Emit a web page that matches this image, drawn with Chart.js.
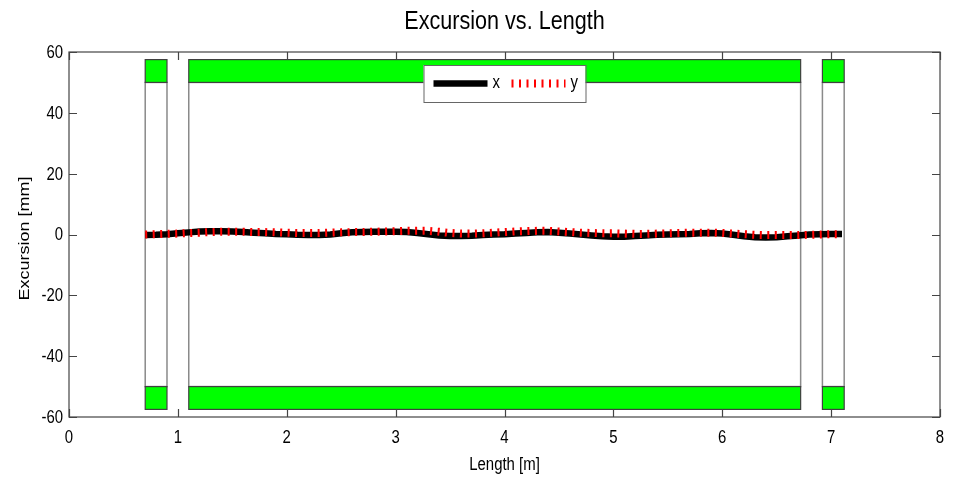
<!DOCTYPE html>
<html>
<head>
<meta charset="utf-8">
<title>Excursion vs. Length</title>
<script src="https://cdn.jsdelivr.net/npm/chart.js@4.4.1/dist/chart.umd.min.js"></script>
<style>
    html, body { margin: 0; padding: 0; background: #fff; }
    #wrap { width: 956px; height: 477px; }
</style>
</head>
<body>
<div id="wrap"><canvas id="excursionChart" width="956" height="477"></canvas></div>
<script>
const FONT = "'Liberation Sans', Arial, sans-serif";
const SQUISH = 0.83; // narrow lettering

// position along the line [m]
const lengthM = [0.7, 0.8, 0.9, 1.0, 1.1, 1.2, 1.3, 1.4, 1.5, 1.6, 1.7, 1.8, 1.9, 2.0, 2.1, 2.2,
    2.3, 2.4, 2.5, 2.6, 2.7, 2.8, 2.9, 3.0, 3.1, 3.2, 3.3, 3.4, 3.5, 3.6, 3.7, 3.8, 3.9, 4.0,
    4.1, 4.2, 4.3, 4.4, 4.5, 4.6, 4.7, 4.8, 4.9, 5.0, 5.1, 5.2, 5.3, 5.4, 5.5, 5.6, 5.7, 5.8,
    5.9, 6.0, 6.1, 6.2, 6.3, 6.4, 6.5, 6.6, 6.7, 6.8, 6.9, 7.0, 7.1];
// horizontal / vertical excursion [mm]
const excursionX = [-0.2, -0.1, 0.1, 0.4, 0.7, 1.0, 1.1, 1.1, 1.0, 0.8, 0.6, 0.4, 0.2, 0.1, -0.1, -0.2,
    -0.2, 0.0, 0.4, 0.7, 0.8, 0.9, 0.9, 0.9, 0.8, 0.5, 0.1, -0.3, -0.5, -0.5, -0.4, -0.2, 0.0, 0.1,
    0.3, 0.5, 0.7, 0.8, 0.6, 0.3, 0.0, -0.3, -0.6, -0.7, -0.7, -0.5, -0.3, -0.1, 0.0, 0.1, 0.2, 0.4,
    0.5, 0.3, -0.1, -0.6, -0.9, -1.0, -0.9, -0.6, -0.3, 0.0, 0.1, 0.2, 0.2];
const excursionY = [0.0, 0.1, 0.2, 0.3, 0.5, 0.6, 0.8, 0.9, 0.9, 0.9, 0.8, 0.8, 0.7, 0.6, 0.5, 0.5,
    0.5, 0.6, 0.7, 0.8, 0.8, 0.9, 1.0, 1.1, 1.2, 1.2, 1.2, 0.9, 0.5, 0.3, 0.3, 0.4, 0.6, 0.8,
    1.0, 1.1, 1.2, 1.2, 1.0, 0.8, 0.6, 0.5, 0.4, 0.4, 0.3, 0.2, 0.2, 0.3, 0.4, 0.5, 0.6, 0.6,
    0.6, 0.5, 0.3, 0.1, -0.1, -0.2, -0.2, -0.2, -0.2, -0.1, 0.0, 0.1, 0.1];

// magnet sections: start / end [m], pole face and yoke edge [mm]
const magnetStart = [0.7, 1.1, 6.92];
const magnetEnd = [0.9, 6.72, 7.12];
const poleFace = 50;
const yokeEdge = 57.5;

const xTicks = [0, 1, 2, 3, 4, 5, 6, 7, 8];
const yTicks = [-60, -40, -20, 0, 20, 40, 60];

function toPoints(xs, ys) {
    return xs.map((x, i) => ({ x: x, y: ys[i] }));
}

// text squeezed horizontally, like the original figure lettering
function narrowText(ctx, text, x, y, size, align, rotate) {
    ctx.save();
    ctx.translate(x, y);
    if (rotate) ctx.rotate(-Math.PI / 2);
    else ctx.scale(SQUISH, 1);
    ctx.font = size + 'px ' + FONT;
    ctx.fillStyle = '#000';
    ctx.textAlign = align;
    ctx.textBaseline = 'middle';
    if (rotate) ctx.scale(1, SQUISH);
    ctx.fillText(text, 0, 0);
    ctx.restore();
}

// magnet outlines, drawn under the traces
const magnetPlugin = {
    id: 'magnets',
    beforeDatasetsDraw(chart) {
        const ctx = chart.ctx, xs = chart.scales.x, ys = chart.scales.y;
        ctx.save();
        for (let i = 0; i < magnetStart.length; i++) {
            const x0 = xs.getPixelForValue(magnetStart[i]);
            const x1 = xs.getPixelForValue(magnetEnd[i]);
            const top = ys.getPixelForValue(poleFace), bot = ys.getPixelForValue(-poleFace);
            ctx.fillStyle = '#ffffff';
            ctx.strokeStyle = '#8a8a8a';
            ctx.lineWidth = 1.5;
            ctx.fillRect(x0, top, x1 - x0, bot - top);
            ctx.strokeRect(x0, top, x1 - x0, bot - top);
            [[poleFace, yokeEdge], [-yokeEdge, -poleFace]].forEach(r => {
                const y0 = ys.getPixelForValue(r[1]), y1 = ys.getPixelForValue(r[0]);
                ctx.fillStyle = '#00ff00';
                ctx.strokeStyle = '#404040';
                ctx.lineWidth = 1.2;
                ctx.fillRect(x0, y0, x1 - x0, y1 - y0);
                ctx.strokeRect(x0, y0, x1 - x0, y1 - y0);
            });
        }
        ctx.restore();
    }
};

// box frame with inward ticks, labels, title and legend
const framePlugin = {
    id: 'frame',
    afterDraw(chart) {
        const ctx = chart.ctx, a = chart.chartArea, xs = chart.scales.x, ys = chart.scales.y;
        const tick = 8;
        ctx.save();
        ctx.strokeStyle = '#444';
        ctx.lineWidth = 1.2;
        ctx.strokeRect(a.left, a.top, a.right - a.left, a.bottom - a.top);
        ctx.beginPath();
        xTicks.forEach(v => {
            const px = Math.round(xs.getPixelForValue(v)) + 0.5;
            ctx.moveTo(px, a.bottom); ctx.lineTo(px, a.bottom - tick);
            ctx.moveTo(px, a.top); ctx.lineTo(px, a.top + tick);
        });
        yTicks.forEach(v => {
            const py = Math.round(ys.getPixelForValue(v)) + 0.5;
            ctx.moveTo(a.left, py); ctx.lineTo(a.left + tick, py);
            ctx.moveTo(a.right, py); ctx.lineTo(a.right - tick, py);
        });
        ctx.stroke();

        xTicks.forEach(v => narrowText(ctx, String(v), xs.getPixelForValue(v), a.bottom + 21, 18, 'center'));
        yTicks.forEach(v => narrowText(ctx, String(v), a.left - 6, ys.getPixelForValue(v) + 1, 18, 'right'));
        narrowText(ctx, 'Length [m]', (a.left + a.right) / 2, 465, 18, 'center');
        narrowText(ctx, 'Excursion [mm]', 25, (a.top + a.bottom) / 2 + 4, 18, 'center', true);
        narrowText(ctx, 'Excursion vs. Length', (a.left + a.right) / 2, 22, 26, 'center');

        // legend
        const cx = (a.left + a.right) / 2;
        const lx = cx - 81, ly = a.top + 13, lw = 162, lh = 37;
        ctx.fillStyle = '#fff';
        ctx.fillRect(lx, ly, lw, lh);
        ctx.strokeStyle = '#666';
        ctx.lineWidth = 1;
        ctx.strokeRect(lx + 0.5, ly + 0.5, lw, lh);
        const my = ly + lh / 2;
        const ds = chart.data.datasets;
        const entries = [[lx + 10, ds[0]], [lx + 88, ds[1]]];
        entries.forEach(e => {
            const d = e[1];
            ctx.beginPath();
            ctx.strokeStyle = d.borderColor;
            ctx.lineWidth = d.borderWidth;
            ctx.lineCap = 'butt';
            ctx.setLineDash(d.borderDash || []);
            ctx.moveTo(e[0], my);
            ctx.lineTo(e[0] + 54, my);
            ctx.stroke();
            ctx.setLineDash([]);
            narrowText(ctx, d.label, e[0] + 59, my, 18, 'left');
        });
        ctx.restore();
    }
};

new Chart(document.getElementById('excursionChart'), {
    type: 'line',
    data: {
        datasets: [
            { label: 'x', data: toPoints(lengthM, excursionX), borderColor: '#000000', borderWidth: 6.5,
              pointRadius: 0, borderCapStyle: 'butt', tension: 0, order: 1 },
            { label: 'y', data: toPoints(lengthM, excursionY), borderColor: '#ff0000', borderWidth: 8,
              borderDash: [2, 5.5], pointRadius: 0, borderCapStyle: 'butt', tension: 0, order: 0 }
        ]
    },
    options: {
        responsive: false,
        animation: false,
        devicePixelRatio: 1,
        layout: { padding: { top: 52, right: 16, left: 0, bottom: 0 } },
        plugins: { legend: { display: false }, tooltip: { enabled: false } },
        scales: {
            x: {
                type: 'linear', min: 0, max: 8,
                afterBuildTicks: s => { s.ticks = xTicks.map(v => ({ value: v })); },
                afterFit: s => { s.height = 60; },
                grid: { display: false, drawTicks: false },
                border: { display: false },
                ticks: { display: false }
            },
            y: {
                type: 'linear', min: -60, max: 60,
                afterBuildTicks: s => { s.ticks = yTicks.map(v => ({ value: v })); },
                afterFit: s => { s.width = 69; },
                grid: { display: false, drawTicks: false },
                border: { display: false },
                ticks: { display: false }
            }
        }
    },
    plugins: [magnetPlugin, framePlugin]
});
</script>
</body>
</html>
